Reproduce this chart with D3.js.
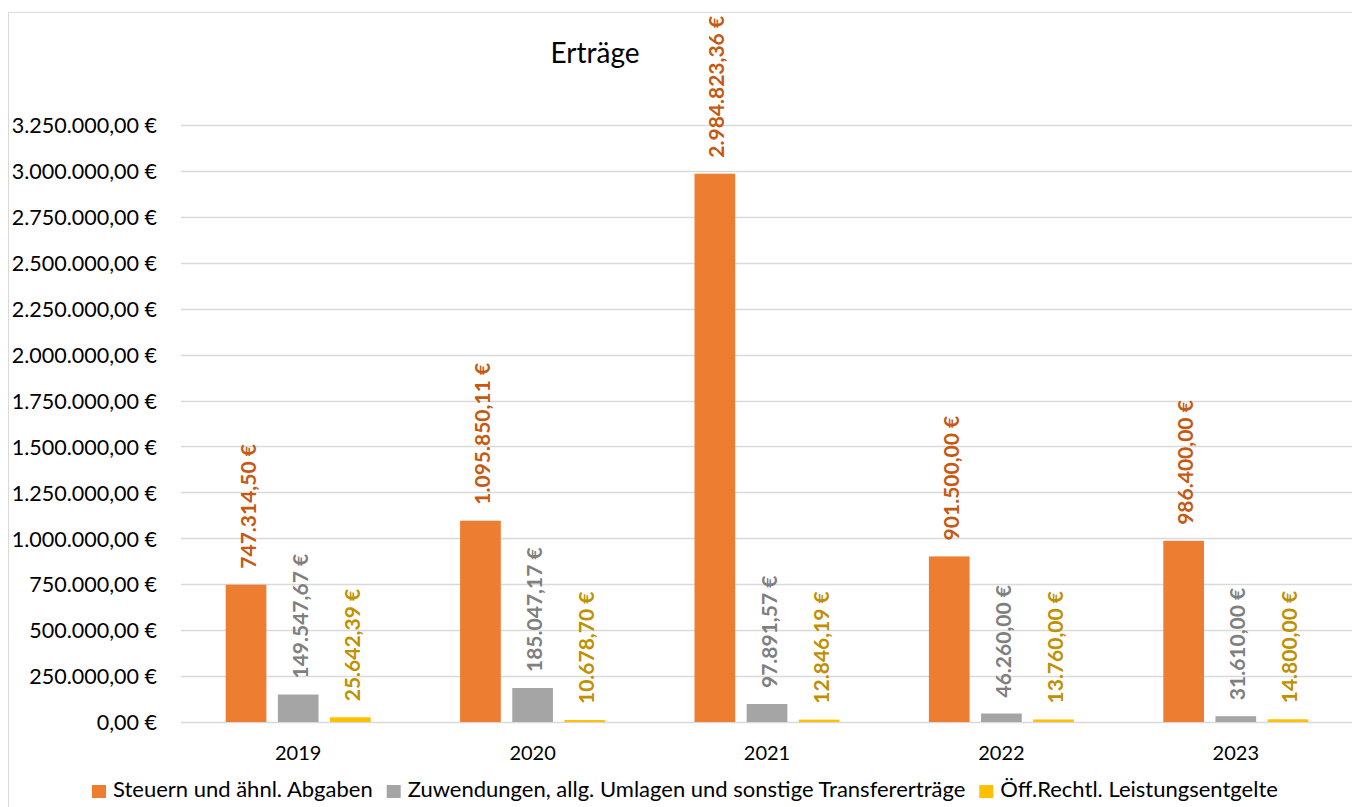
<!DOCTYPE html>
<html>
<head>
<meta charset="utf-8">
<script src="https://cdn.jsdelivr.net/npm/d3@7"></script>
<style>
  html, body { margin: 0; padding: 0; background: #fff; }
  svg { display: block; }
</style>
</head>
<body>
<svg id="chart" width="1352" height="807"></svg>
<script>
const categories = ["2019", "2020", "2021", "2022", "2023"];
const seriesNames = ["Steuern und ähnl. Abgaben", "Zuwendungen, allg. Umlagen und sonstige Transfererträge", "Öff.Rechtl. Leistungsentgelte"];
const steuern = [747314.50, 1095850.11, 2984823.36, 901500.00, 986400.00];
const zuwendungen = [149547.67, 185047.17, 97891.57, 46260.00, 31610.00];
const leistungsentgelte = [25642.39, 10678.70, 12846.19, 13760.00, 14800.00];
const yTicks = [0, 250000, 500000, 750000, 1000000, 1250000, 1500000, 1750000, 2000000, 2250000, 2500000, 2750000, 3000000, 3250000];
const title = "Erträge";

const seriesValues = [steuern, zuwendungen, leistungsentgelte];
const barColors = ["#ED7D31", "#A5A5A5", "#FFC000"];
const labelColors = ["#C65911", "#7F7F7F", "#BF9000"];

const locale = d3.formatLocale({ decimal: ",", thousands: ".", grouping: [3], currency: ["", " €"] });
const fmt = locale.format("$,.2f");

const FONT = "Lato, sans-serif";
const svg = d3.select("#chart");
const plot = { left: 181, right: 1353, top: 125, bottom: 722 };

// chart border (cropped)
svg.append("path")
  .attr("d", "M8.5,807 V12.5 H1352")
  .attr("fill", "none").attr("stroke", "#D9D9D9").attr("stroke-width", 1);

const x0 = d3.scaleBand().domain(categories).range([plot.left, plot.right]).padding(0);
const groupWidth = 145;
const x1 = d3.scaleBand().domain(seriesNames).range([-groupWidth / 2, groupWidth / 2]).paddingInner(0.22);
const y = d3.scaleLinear().domain([0, 3250000]).range([plot.bottom, plot.top]);

// gridlines
svg.append("g")
  .selectAll("line").data(yTicks).join("line")
  .attr("x1", plot.left).attr("x2", plot.right)
  .attr("y1", d => Math.round(y(d)) + 0.5).attr("y2", d => Math.round(y(d)) + 0.5)
  .attr("stroke", "#D9D9D9").attr("stroke-width", 1.3);

// y axis
const yAxis = d3.axisLeft(y).tickValues(yTicks).tickFormat(fmt).tickSize(0).tickPadding(24);
const yg = svg.append("g").attr("transform", `translate(${plot.left},0)`).call(yAxis);
yg.select(".domain").remove();
yg.selectAll("text")
  .attr("font-family", FONT)
  .attr("font-size", 21.5)
  .attr("dy", "0.36em")
  .attr("fill", "#000");

// x axis labels
const xAxis = d3.axisBottom(x0).tickSize(0);
const xg = svg.append("g").attr("transform", `translate(0,${plot.bottom})`).call(xAxis);
xg.select(".domain").remove();
xg.selectAll("text")
  .attr("font-family", FONT)
  .attr("font-size", 20)
  .attr("y", 38)
  .attr("dy", 0)
  .attr("fill", "#000");

// bars
const rows = [];
categories.forEach((c, i) => {
  seriesNames.forEach((s, j) => {
    rows.push({ cat: c, series: s, si: j, value: seriesValues[j][i] });
  });
});

svg.append("g").selectAll("rect").data(rows).join("rect")
  .attr("x", d => x0(d.cat) + x0.bandwidth() / 2 + x1(d.series))
  .attr("width", x1.bandwidth())
  .attr("y", d => y(d.value))
  .attr("height", d => y(0) - y(d.value))
  .attr("fill", d => barColors[d.si]);

// data labels
svg.append("g").selectAll("text").data(rows).join("text")
  .attr("transform", d => {
    const cx = x0(d.cat) + x0.bandwidth() / 2 + x1(d.series) + x1.bandwidth() / 2 + 9.5;
    const ty = y(d.value) - 16;
    return `translate(${cx},${ty}) rotate(-90)`;
  })
  .attr("text-anchor", "start")
  .attr("font-family", FONT)
  .attr("font-weight", "bold")
  .attr("font-size", 21)
  .attr("fill", d => labelColors[d.si])
  .text(d => fmt(d.value));

// title
svg.append("text")
  .attr("x", 595).attr("y", 63)
  .attr("text-anchor", "middle")
  .attr("font-family", FONT)
  .attr("font-size", 28)
  .attr("fill", "#000")
  .text(title);

// legend
const lg = svg.append("g");
let lx = 92;
seriesNames.forEach((name, i) => {
  lg.append("rect").attr("x", lx).attr("y", 785).attr("width", 14).attr("height", 13).attr("fill", barColors[i]);
  const t = lg.append("text").attr("x", lx + 21).attr("y", 797)
    .attr("font-family", FONT).attr("font-size", 22)
    .attr("fill", "#000").text(name);
  lx = lx + 21 + t.node().getComputedTextLength() + 14;
});
</script>
</body>
</html>
